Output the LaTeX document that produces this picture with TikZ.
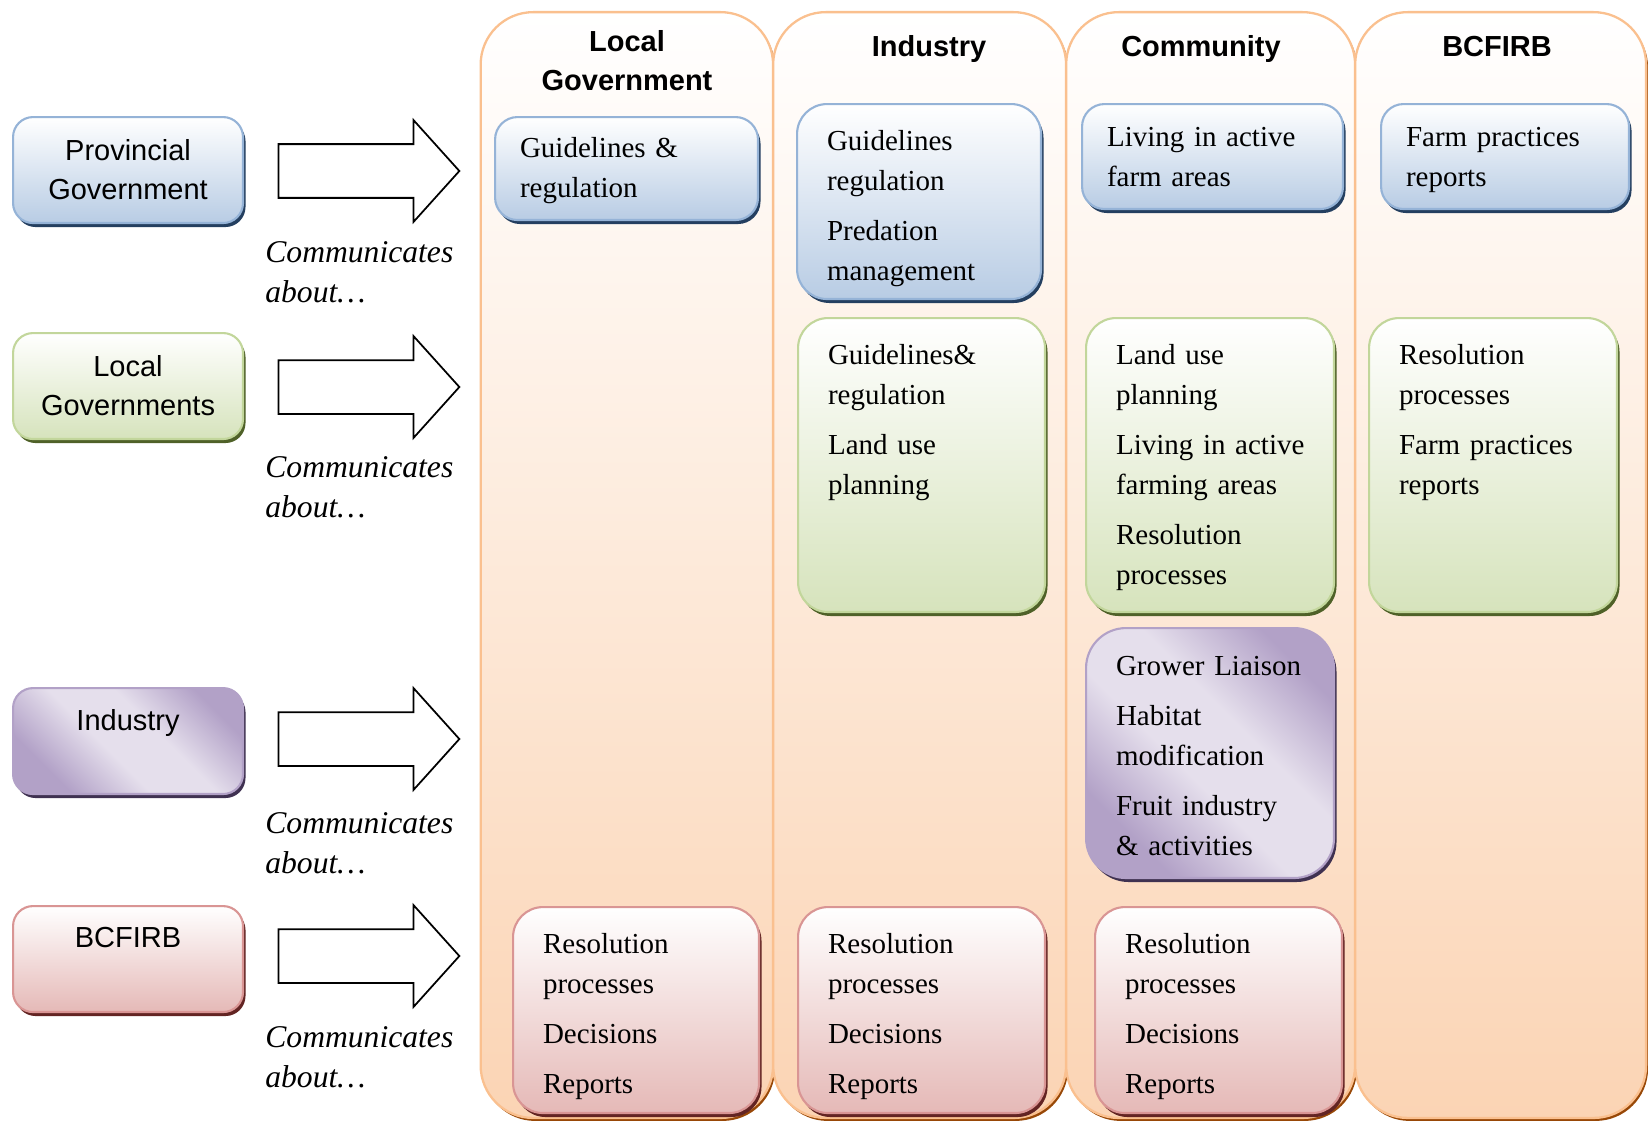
\documentclass[tikz,border=0pt]{standalone}
\usepackage{fontspec}
\setmainfont{Liberation Serif}
\setsansfont{Liberation Sans}
\usetikzlibrary{shapes.arrows, shadows}
\definecolor{laneedge}{HTML}{FAC08F}
\definecolor{lanefill}{HTML}{FBD4B4}
\definecolor{laneshade}{HTML}{984807}
\definecolor{blueedge}{HTML}{95B3D7}
\definecolor{bluefill}{HTML}{B8CCE4}
\definecolor{blueshade}{HTML}{243F60}
\definecolor{greenedge}{HTML}{C2D69B}
\definecolor{greenfill}{HTML}{D6E3BC}
\definecolor{greenshade}{HTML}{4F6128}
\definecolor{rededge}{HTML}{D99594}
\definecolor{redfill}{HTML}{E5B9B7}
\definecolor{redshade}{HTML}{632423}
\definecolor{lilacdark}{HTML}{B2A1C7}
\definecolor{lilaclight}{HTML}{E5DFEC}
\definecolor{lilacshade}{HTML}{3F3151}
\pgfdeclarehorizontalshading{lilacdiag}{100bp}{color(0bp)=(lilacdark); color(27bp)=(lilacdark); color(44bp)=(lilaclight); color(58bp)=(lilaclight); color(75bp)=(lilacdark); color(100bp)=(lilacdark)}
\tikzset{
  lane/.style={draw=laneedge, line width=1.3pt, rounded corners=1.05cm, anchor=north west,
    minimum height=22.12cm, top color=white, bottom color=lanefill,
    drop shadow={fill=laneshade, opacity=1, shadow xshift=.04cm, shadow yshift=-.06cm}},
  bluebox/.style={draw=blueedge, top color=white, bottom color=bluefill,
    drop shadow={fill=blueshade, opacity=1, shadow xshift=.05cm, shadow yshift=-.08cm}},
  greenbox/.style={draw=greenedge, top color=white, bottom color=greenfill,
    drop shadow={fill=greenshade, opacity=1, shadow xshift=.05cm, shadow yshift=-.08cm}},
  redbox/.style={draw=rededge, top color=white, bottom color=redfill,
    drop shadow={fill=redshade, opacity=1, shadow xshift=.05cm, shadow yshift=-.08cm}},
  lilacbox/.style={draw=lilacdark, shade, shading=lilacdiag, shading angle=45,
    drop shadow={fill=lilacshade, opacity=1, shadow xshift=.05cm, shadow yshift=-.08cm}},
  actor/.style={line width=1.2pt, rounded corners=.4cm, anchor=north west,
    minimum width=4.6cm, minimum height=2.12cm, align=center,
    font=\sffamily\fontsize{16.5}{22.2}\selectfont},
  panel/.style={line width=1.2pt, rounded corners=.6cm, anchor=north west, align=left,
    inner xsep=.6cm, inner ysep=0pt, text height=.93cm,
    font=\fontsize{16.5}{22.8}\selectfont},
  head/.style={anchor=base, text width=5cm, align=center,
    font=\sffamily\bfseries\fontsize{16.5}{22.2}\selectfont},
  flow/.style={single arrow, draw, line width=1pt, fill=white, anchor=tail,
    minimum height=3.62cm, inner xsep=0pt, inner ysep=.52cm,
    single arrow head extend=.48cm, single arrow tip angle=96},
  say/.style={anchor=base west, inner sep=0pt, text width=4cm, align=left,
    font=\itshape\fontsize{18}{23.3}\selectfont},
}

\begin{document}
\begin{tikzpicture}[x=.02cm, y=-.02cm]
\useasboundingbox (0,0) rectangle (1648,1122);
% the four lanes
\node[lane, minimum width=5.85cm] (laneLG) at (479.5,11) {};
\node[lane, minimum width=5.86cm] (laneInd) at (772,11) {};
\node[lane, minimum width=5.78cm] (laneCom) at (1065,11) {};
\node[lane, minimum width=5.82cm] (laneBC) at (1354,11) {};
\node[head] (hLG) at (627,51.5) {Local\\Government};
\node[head] (hInd) at (929,56.5) {Industry};
\node[head] (hCom) at (1201,56.5) {Community};
\node[head] (hBC) at (1497,56.5) {BCFIRB};

% who communicates
\node[actor, bluebox] (provGov) at (12,116) {Provincial\\Government};
\node[actor, greenbox] (localGov) at (12,332) {Local\\Governments};
\node[actor, lilacbox, inner ysep=0pt, text height=.85cm, text depth=1.27cm] (industry) at (12,687) {Industry};
\node[actor, redbox, inner ysep=0pt, text height=.83cm, text depth=1.29cm] (bcfirb) at (12,905) {BCFIRB};
\foreach \y/\t [count=\i] in {171/262, 387/477, 739/833, 956/1047}{
  \node[flow] (flow\i) at (277.5,\y) {};
  \node[say] (say\i) at (265,\t) {Communicates\\about\ldots};
}

% Local Government lane
\node[panel, bluebox, rounded corners=.45cm, inner xsep=.5cm, text width=4.26cm, text height=.81cm, text depth=1.25cm] (lgProv) at (494,116) {Guidelines \&\\regulation};
\node[panel, redbox, text width=3.72cm, text depth=3.19cm] (lgBoard) at (512,906) {Resolution\\processes\\[.2cm]Decisions\\[.2cm]Reports};
% Industry lane
\node[panel, bluebox, text width=3.68cm, text depth=2.97cm] (indProv) at (796,103) {Guidelines\\regulation\\[.2cm]Predation\\management};
\node[panel, greenbox, text width=3.74cm, text depth=4.95cm] (indLocal) at (797,317) {Guidelines\&\\regulation\\[.2cm]Land use\\planning};
\node[panel, redbox, text width=3.74cm, text depth=3.19cm] (indBoard) at (797,906) {Resolution\\processes\\[.2cm]Decisions\\[.2cm]Reports};
% Community lane
\node[panel, bluebox, rounded corners=.45cm, inner xsep=.5cm, text width=4.22cm, text height=.85cm, text depth=1.25cm] (comProv) at (1081,103) {Living in active\\farm areas};
\node[panel, greenbox, text width=3.76cm, text depth=4.95cm] (comLocal) at (1085,317) {Land use\\planning\\[.2cm]\mbox{Living in active}\\farming areas\\[.2cm]Resolution\\processes};
\node[panel, lilacbox, rounded corners=.8cm, text width=3.76cm, text height=.95cm, text depth=4.05cm] (comInd) at (1085,627) {\mbox{Grower Liaison}\\[.2cm]Habitat\\modification\\[.2cm]Fruit industry\\\& activities};
\node[panel, redbox, text width=3.74cm, text depth=3.19cm] (comBoard) at (1094,906) {Resolution\\processes\\[.2cm]Decisions\\[.2cm]Reports};
% BCFIRB lane
\node[panel, bluebox, rounded corners=.45cm, inner xsep=.5cm, text width=3.96cm, text height=.85cm, text depth=1.25cm] (bcProv) at (1380,103) {Farm practices\\reports};
\node[panel, greenbox, text width=3.76cm, text depth=4.95cm] (bcLocal) at (1368,317) {Resolution\\processes\\[.2cm]Farm practices\\reports};
\end{tikzpicture}
\end{document}
